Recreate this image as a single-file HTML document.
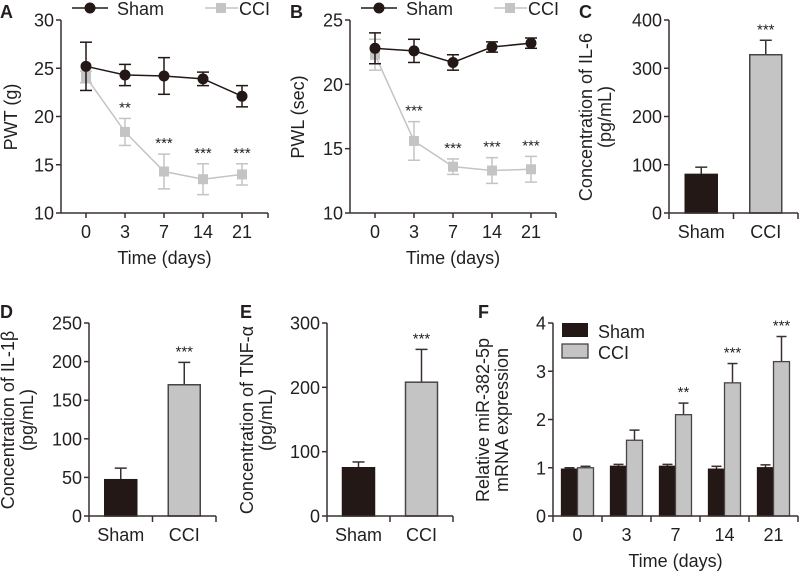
<!DOCTYPE html>
<html><head><meta charset="utf-8"><style>
body{margin:0;background:#fff}
svg{display:block;font-family:"Liberation Sans",sans-serif}
text{fill:#231f20}
</style></head><body>
<svg id="s" width="799" height="571" viewBox="0 0 799 571" xmlns="http://www.w3.org/2000/svg"></svg>
<script>
// ---- data ----
const days = ['0','3','7','14','21'];
const shamA = [25.2,24.3,24.2,23.9,22.1];
const shamAErr = [2.5,1.1,1.9,0.7,1.1];
const cciA = [24.1,18.4,14.3,13.5,14.0];
const cciAErr = [0.6,1.4,1.8,1.6,1.1];
const sigA = ['','**','***','***','***'];
const ticksA = [10,15,20,25,30];
const shamB = [22.8,22.6,21.7,22.9,23.2];
const shamBErr = [1.2,0.9,0.6,0.4,0.4];
const cciB = [22.3,15.6,13.6,13.3,13.4];
const cciBErr = [1.2,1.5,0.6,1.0,1.0];
const sigB = ['','***','***','***','***'];
const ticksB = [10,15,20,25];
const groups = ['Sham','CCI'];
const valC = [80,328];
const errC = [15,30];
const ticksC = [0,100,200,300,400];
const valD = [47,170];
const errD = [15,29];
const ticksD = [0,50,100,150,200,250];
const valE = [75,208];
const errE = [9,51];
const ticksE = [0,100,200,300];
const shamF = [0.97,1.03,1.03,0.97,1.0];
const shamFErr = [0.03,0.04,0.04,0.06,0.06];
const cciF = [1.0,1.57,2.1,2.76,3.2];
const cciFErr = [0.03,0.21,0.24,0.4,0.52];
const sigF = ['','','**','***','***'];
const ticksF = [0,1,2,3,4];

const S=document.getElementById('s');
const NS='http://www.w3.org/2000/svg';
const DK='#231816', GR='#c4c4c4', AX='#3a3030';
const FS=18;
function el(tag,at,txt){const e=document.createElementNS(NS,tag);for(const k in at)e.setAttribute(k,at[k]);if(txt!==undefined)e.textContent=txt;S.appendChild(e);return e;}
function line(x1,y1,x2,y2,c,w){return el('line',{x1,y1,x2,y2,stroke:c||AX,'stroke-width':w||1.5});}
function txt(x,y,t,o){o=o||{};return el('text',Object.assign({x,y,'font-size':o.fs||FS,'text-anchor':o.a||'middle'},o.tr?{transform:o.tr}:{}),t);}

function yAxis(x0,yTop,yBot,ticks,name){
  const mn=ticks[0],mx=ticks[ticks.length-1];
  const f=v=>yBot-(v-mn)/(mx-mn)*(yBot-yTop);
  const a=line(x0,yTop,x0,yBot);
  ticks.forEach(t=>{line(x0-5,f(t),x0,f(t));const l=txt(x0-7,f(t)+6.5,String(t),{a:'end'});});
  return f;
}
function yTitle(x,yc,lines,name){
  lines.forEach((t,i)=>{const l=txt(x+i*19,yc,t,{tr:`rotate(-90 ${x+i*19} ${yc})`,fs:18});});
}
function letter(x,y,t){const l=txt(x,y,t,{a:'start',fs:18});l.setAttribute('font-weight','bold');}
function errBar(x,y1,y2,c,cap,capBottom){line(x,y1,x,y2,c,1.5);line(x-cap,y1,x+cap,y1,c,1.5);if(capBottom)line(x-cap,y2,x+cap,y2,c,1.5);}

function linePanel(name,x0,x1,yTop,yBot,ticks,sham,shamE,cci,cciE,sig){
  const f=yAxis(x0,yTop,yBot,ticks,name);
  const xs=i=>x0+25+39*i;
  const ax=line(x0,yBot,x1,yBot);
  days.forEach((d,i)=>{line(xs(i),yBot,xs(i),yBot+5);const l=txt(xs(i),yBot+25,d);});
  line(x1,yBot,x1,yBot+5);
  const t=txt((x0+x1)/2,yBot+51,'Time (days)');
  el('polyline',{points:cci.map((v,i)=>xs(i)+','+f(v)).join(' '),fill:'none',stroke:GR,'stroke-width':1.5});
  cci.forEach((v,i)=>{errBar(xs(i),f(v+cciE[i]),f(v-cciE[i]),GR,6,true);const r=el('rect',{x:xs(i)-5,y:f(v)-5,width:10,height:10,fill:GR});
    if(sig[i]){const s=txt(xs(i),f(v+cciE[i])-6,sig[i],{fs:15});}});
  el('polyline',{points:sham.map((v,i)=>xs(i)+','+f(v)).join(' '),fill:'none',stroke:DK,'stroke-width':1.5});
  sham.forEach((v,i)=>{errBar(xs(i),f(v+shamE[i]),f(v-shamE[i]),DK,6,true);const c=el('circle',{cx:xs(i),cy:f(v),r:5.5,fill:DK});});
  const lx=x0+11;
  line(lx,8,lx+36,8,DK,1.5);el('circle',{cx:lx+18,cy:8,r:5.5,fill:DK});
  const l1=txt(lx+45,15,'Sham',{a:'start'});
  line(lx+133,8,lx+166,8,GR,1.5);el('rect',{x:lx+144,y:3,width:10,height:10,fill:GR});
  const l2=txt(lx+167,15,'CCI',{a:'start'});
}

function barPanel(name,x0,x1,yTop,yBot,ticks,vals,errs){
  const f=yAxis(x0,yTop,yBot,ticks,name);
  const w=x1-x0;const cx=i=>x0+w*(0.25+0.5*i);
  vals.forEach((v,i)=>{
    errBar(cx(i),f(v+errs[i]),f(v),AX,6,false);
    const r=el('rect',{x:cx(i)-16,y:f(v),width:32,height:yBot-f(v),fill:i?GR:DK,stroke:i?'#4a4444':DK,'stroke-width':1.5});
    
    const l=txt(cx(i),yBot+25,groups[i]);
  });
  const s=txt(cx(1),f(vals[1]+errs[1])-6,'***',{fs:15});
  const ax=line(x0,yBot,x1,yBot);
  line(x0+w/2,yBot,x0+w/2,yBot+6);line(x1,yBot,x1,yBot+6);line(x0,yBot,x0,yBot+6);
}

letter(0,18,'A');yTitle(17,117,['PWT (g)'],'panel-a');
linePanel('panel-a',61,268,20,213,ticksA,shamA,shamAErr,cciA,cciAErr,sigA);
letter(290,18,'B');yTitle(304,117,['PWL (sec)'],'panel-b');
linePanel('panel-b',350,556,20,213,ticksB,shamB,shamBErr,cciB,cciBErr,sigB);
letter(579,18,'C');yTitle(592,117,['Concentration of IL-6','(pg/mL)'],'panel-c');
barPanel('panel-c',669,798,20,213,ticksC,valC,errC);
letter(0,318,'D');yTitle(14,420,['Concentration of IL-1β','(pg/mL)'],'panel-d');
barPanel('panel-d',89,216,323,516,ticksD,valD,errD);
letter(240,318,'E');yTitle(253,420,['Concentration of TNF-α','(pg/mL)'],'panel-e');
barPanel('panel-e',327,453,323,516,ticksE,valE,errE);
letter(478,318,'F');yTitle(489,420,['Relative miR-382-5p','mRNA expression'],'panel-f');
(function(){
  const x0=553,x1=798,yTop=323,yBot=516,name='panel-f';
  const f=yAxis(x0,yTop,yBot,ticksF,name);
  const gw=(x1-x0)/days.length;const cx=i=>x0+gw*(i+0.5);
  days.forEach((d,i)=>{
    [[shamF,shamFErr,DK,DK,-1,'sham'],[cciF,cciFErr,GR,'#4a4444',0,'cci']].forEach(([v,e,fill,st,o,n])=>{
      const bx=cx(i)+o*16;
      errBar(bx+8,f(v[i]+e[i]),f(v[i]),AX,5,false);
      const r=el('rect',{x:bx,y:f(v[i]),width:16,height:yBot-f(v[i]),fill,stroke:st,'stroke-width':1.3});
      
    });
    if(sigF[i]){const s=txt(cx(i)+8,f(cciF[i]+cciFErr[i])-6,sigF[i],{fs:15});}
    const l=txt(cx(i),yBot+25,d);
  });
  const ax=line(x0,yBot,x1,yBot);
  for(let k=0;k<=days.length;k++)line(x0+gw*k,yBot,x0+gw*k,yBot+6);
  const t=txt((x0+x1)/2,yBot+51,'Time (days)');
  el('rect',{x:562,y:323,width:26,height:14,fill:DK});
  const l1=txt(598,338,'Sham',{a:'start'});
  el('rect',{x:562,y:344,width:26,height:14,fill:GR,stroke:'#4a4444','stroke-width':1.3});
  const l2=txt(598,359,'CCI',{a:'start'});
})();
</script>
</body></html>
